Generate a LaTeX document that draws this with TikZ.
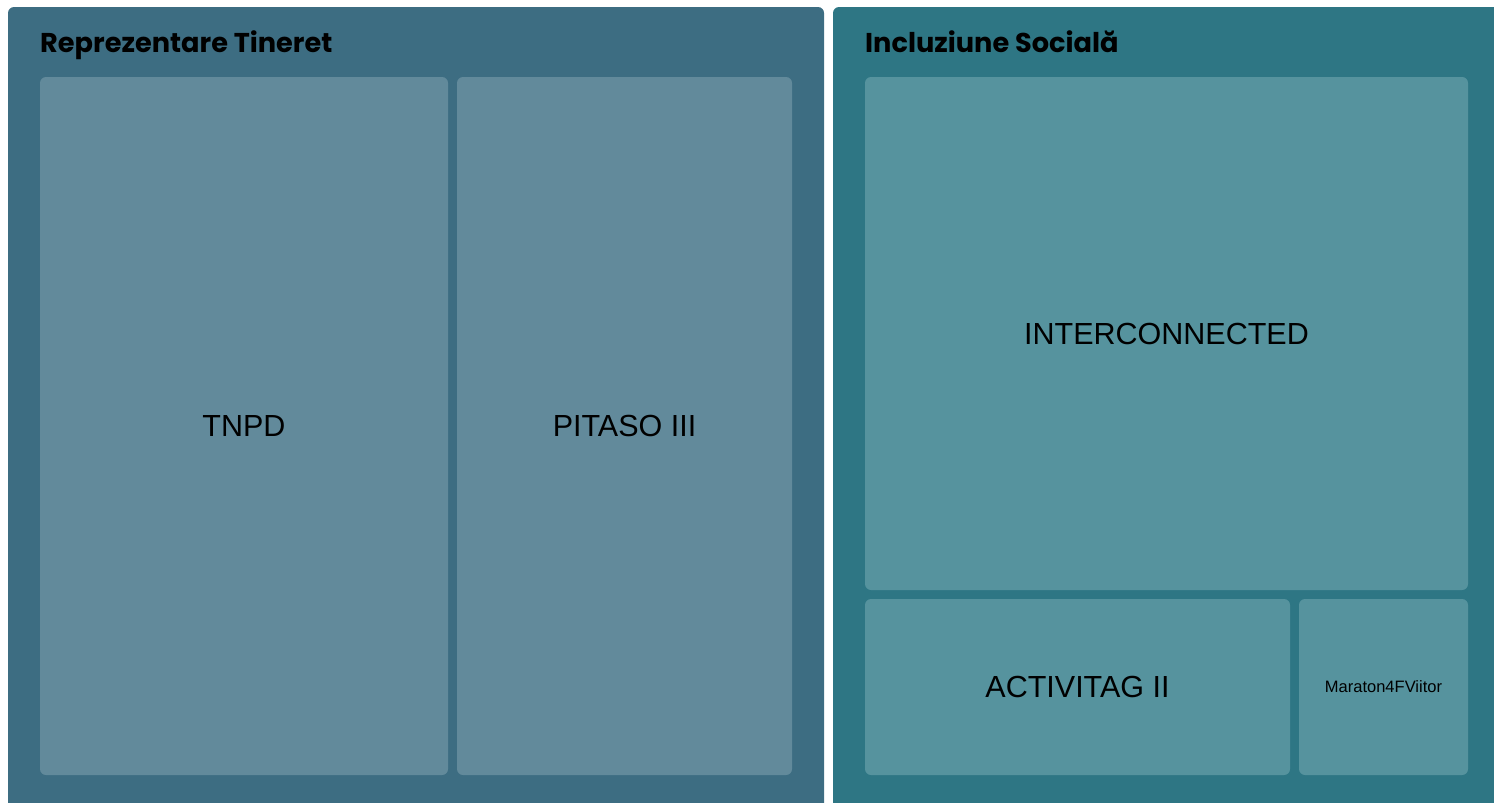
\documentclass[tikz,border=0pt]{standalone}
\usepackage{fontspec}
\setmainfont{Liberation Sans}
\newfontfamily\titlefont{Poppins}
\definecolor{outerA}{HTML}{3D6D82}
\definecolor{innerA}{HTML}{628A9B}
\definecolor{outerB}{HTML}{2E7684}
\definecolor{innerB}{HTML}{56939E}
\begin{document}
\begin{tikzpicture}[x=1pt,y=-1pt,
  cell/.style={rectangle, rounded corners=6pt, inner sep=0pt, text=black,
    font=\fontsize{30.5}{36}\selectfont},
  small/.style={font=\fontsize{16.5}{20}\selectfont},
  title/.style={anchor=base west, inner sep=0pt, text=black,
    font=\titlefont\bfseries\fontsize{27.2}{31}\selectfont}]
\useasboundingbox (0,0) rectangle (1494,803);
\begin{scope}
  \clip (0,0) rectangle (1494,803);
  \fill[outerA, rounded corners=6pt] (8,7) rectangle (824,815);
  \fill[outerB, rounded corners=6pt] (833,7) rectangle (1506,815);
\end{scope}
\node[title] (t1) at (40,52) {Reprezentare Tineret};
\node[title] (t2) at (865,52) {Incluziune Socială};
\node[cell, fill=innerA, minimum width=408pt, minimum height=698pt] (tnpd) at (244,426) {TNPD};
\node[cell, fill=innerA, minimum width=335pt, minimum height=698pt] (pitaso) at (624.5,426) {PITASO III};
\node[cell, fill=innerB, minimum width=603pt, minimum height=513pt] (inter) at (1166.5,333.5) {INTERCONNECTED};
\node[cell, fill=innerB, minimum width=425pt, minimum height=176pt] (activ) at (1077.5,687) {ACTIVITAG II};
\node[cell, small, fill=innerB, minimum width=169pt, minimum height=176pt] (mara) at (1383.5,687) {Maraton4FViitor};
\end{tikzpicture}
\end{document}
